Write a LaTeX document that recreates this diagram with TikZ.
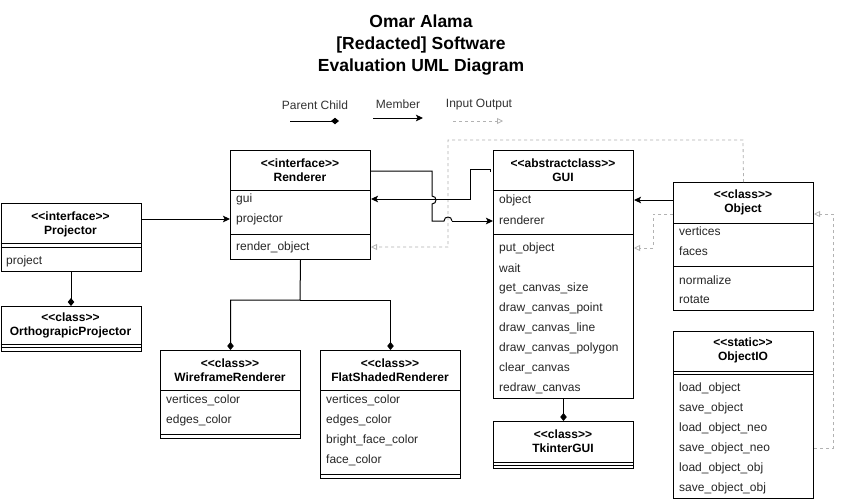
\documentclass[tikz,border=0pt]{standalone}
\usepackage{fontspec}
\setmainfont{Liberation Sans}[Ligatures=TeXOff]
\usetikzlibrary{arrows.meta}
\begin{document}
\begin{tikzpicture}[x=1pt,y=-1pt,
  box/.style={draw=black,line width=1pt,rectangle,inner sep=0pt,anchor=north west,minimum width=140pt},
  hdr/.style={inner sep=0pt,align=center,font=\fontsize{12}{14}\selectfont\bfseries},
  attr/.style={inner sep=0pt,anchor=west,font=\fontsize{12}{14}\selectfont,text=black!85},
  sep/.style={line width=1pt},
  member/.style={line width=1pt,-{Stealth[length=7pt,width=6.5pt,inset=1.5pt]}},
  comp/.style={line width=1pt,-{Diamond[length=8pt,width=6.5pt]}},
  io/.style={line width=0.8pt,draw=black!30,dash pattern=on 3pt off 3pt,-{Triangle[open,length=6pt,width=6pt,line width=0.8pt]}},
  lgd/.style={inner sep=0pt,font=\fontsize{12}{14}\selectfont,text=black!80},
  ttl/.style={inner sep=0pt,align=center,font=\fontsize{17.5}{22}\selectfont\bfseries}
]
\useasboundingbox (0,0) rectangle (843,499);
\fill[white] (0,0) rectangle (843,499);

% title
\node[ttl] (title) at (421,45) {Omar Alama\\{}[Redacted] Software\\Evaluation UML Diagram};

% legend
\node[lgd] (lpc) at (315,105) {Parent Child};
\node[lgd] (lme) at (398,104) {Member};
\node[lgd] (lio) at (479,105) {Input Output};
\coordinate (lpa) at (290,121); \coordinate (lpb) at (339,121);
\coordinate (lma) at (373,118); \coordinate (lmb) at (423,118);
\coordinate (lia) at (453,121); \coordinate (lib) at (503,121);
\draw[comp] (lpa) -- (lpb);
\draw[member] (lma) -- (lmb);
\draw[io] (lia) -- (lib);

% Renderer
\node[box,minimum height=109pt] (ren) at (230,150) {};
\draw[sep] (230,190) -- (370,190);
\draw[sep] (230,234) -- (370,234);
\node[hdr] (renh) at (300,170) {<<interface>>\\Renderer};
\node[attr] (rengui) at (236,199) {gui};
\node[attr] (renproj) at (236,219) {projector};
\node[attr] (renro) at (236,247) {render\_object};

% Projector
\node[box,minimum height=68pt] (proj) at (0.5,203) {};
\draw[sep] (0.5,243) -- (140.5,243);
\draw[sep] (0.5,247) -- (140.5,247);
\node[hdr] (projh) at (70.5,224) {<<interface>>\\Projector};
\node[attr] (projp) at (6,261) {project};

% OrthograpicProjector
\node[box,minimum height=45pt] (ortho) at (0.5,306) {};
\draw[sep] (0.5,344) -- (140.5,344);
\draw[sep] (0.5,347.5) -- (140.5,347.5);
\node[hdr] (orthoh) at (70.5,325) {<<class>>\\OrthograpicProjector};

% WireframeRenderer
\node[box,minimum height=88pt] (wire) at (160,350) {};
\draw[sep] (160,390) -- (300,390);
\draw[sep] (160,434) -- (300,434);
\node[hdr] (wireh) at (230,370) {<<class>>\\WireframeRenderer};
\node[attr] (wa1) at (166,400) {vertices\_color};
\node[attr] (wa2) at (166,420) {edges\_color};

% FlatShadedRenderer
\node[box,minimum height=128pt] (flat) at (320,350) {};
\draw[sep] (320,390) -- (460,390);
\draw[sep] (320,474) -- (460,474);
\node[hdr] (flath) at (390,370) {<<class>>\\FlatShadedRenderer};
\node[attr] (fa1) at (326,400) {vertices\_color};
\node[attr] (fa2) at (326,420) {edges\_color};
\node[attr] (fa3) at (326,440) {bright\_face\_color};
\node[attr] (fa4) at (326,460) {face\_color};

% GUI
\node[box,minimum height=248pt] (gui) at (493,150) {};
\draw[sep] (493,190) -- (633,190);
\draw[sep] (493,234) -- (633,234);
\node[hdr] (guih) at (563,170) {<<abstractclass>>\\GUI};
\node[attr] (guiobj) at (499,200) {object};
\node[attr] (guiren) at (499,220) {renderer};
\node[attr] (guim1) at (499,248) {put\_object};
\node[attr] (guim2) at (499,268) {wait};
\node[attr] (guim3) at (499,288) {get\_canvas\_size};
\node[attr] (guim4) at (499,308) {draw\_canvas\_point};
\node[attr] (guim5) at (499,328) {draw\_canvas\_line};
\node[attr] (guim6) at (499,348) {draw\_canvas\_polygon};
\node[attr] (guim7) at (499,368) {clear\_canvas};
\node[attr] (guim8) at (499,388) {redraw\_canvas};

% TkinterGUI
\node[box,minimum height=47pt] (tk) at (493,421) {};
\draw[sep] (493,462) -- (633,462);
\draw[sep] (493,465) -- (633,465);
\node[hdr] (tkh) at (563,441) {<<class>>\\TkinterGUI};

% Object
\node[box,minimum height=128pt] (obj) at (673,182) {};
\draw[sep] (673,223) -- (813,223);
\draw[sep] (673,266) -- (813,266);
\node[hdr] (objh) at (743,202) {<<class>>\\Object};
\node[attr] (oa1) at (679,231) {vertices};
\node[attr] (oa2) at (679,251) {faces};
\node[attr] (om1) at (679,280) {normalize};
\node[attr] (om2) at (679,300) {rotate};

% ObjectIO
\node[box,minimum height=167pt] (oio) at (673,331) {};
\draw[sep] (673,371) -- (813,371);
\draw[sep] (673,374.5) -- (813,374.5);
\node[hdr] (oioh) at (743,350) {<<static>>\\ObjectIO};
\node[attr] (io1) at (679,388) {load\_object};
\node[attr] (io2) at (679,408) {save\_object};
\node[attr] (io3) at (679,428) {load\_object\_neo};
\node[attr] (io4) at (679,448) {save\_object\_neo};
\node[attr] (io5) at (679,468) {load\_object\_obj};
\node[attr] (io6) at (679,488) {save\_object\_obj};

% ---- connectors ----
% Projector -> Renderer.projector
\draw[member] (proj.east |- renproj) -- (ren.west |- renproj);
% Projector -> OrthograpicProjector
\draw[comp] (proj.south) -- (ortho.north);
% Renderer -> children
\coordinate (rj) at (300,300);
\draw[comp] (ren.south) -- (rj) -| (wire.north);
\draw[comp] (rj) -| (flat.north);
% GUI -> TkinterGUI
\draw[comp] (gui.south) -- (tk.north);

% dashed IO lines
\coordinate (d1) at (743,140);
\coordinate (d2) at (448,140);
\draw[io] (obj.north) -- (d1) -- (d2) |- (ren.east |- renro);
\coordinate (d3) at (653,214);
\draw[io] (obj.west |- d3) -- (d3) |- (gui.east |- guim1);
\coordinate (d4) at (833,448);
\coordinate (d5) at (833,214);
\draw[io] (oio.east |- io4) -- (d4) -- (d5) -- (obj.east |- d5);

% Object -> GUI.object
\draw[member] (obj.west |- guiobj) -- (gui.east |- guiobj);

% GUI -> Renderer.gui
\coordinate (g0) at (490,172);
\coordinate (g1) at (490,169);
\coordinate (g2) at (470,169);
\draw[member] (g0) -- (g1) -- (g2) |- (ren.east |- rengui);

% Renderer -> GUI.renderer (with line jumps)
\coordinate (r1) at (432,171);
\draw[line width=1pt] (ren.east |- r1) -- (r1) -- (432,196)
   .. controls (437.3,196) and (437.3,204) .. (432,204) -- (432,221) -- (444,221)
   .. controls (444,215.7) and (452,215.7) .. (452,221);
\coordinate (r2) at (452,221);
\draw[member] (r2) -- (gui.west |- r2);
\end{tikzpicture}
\end{document}
